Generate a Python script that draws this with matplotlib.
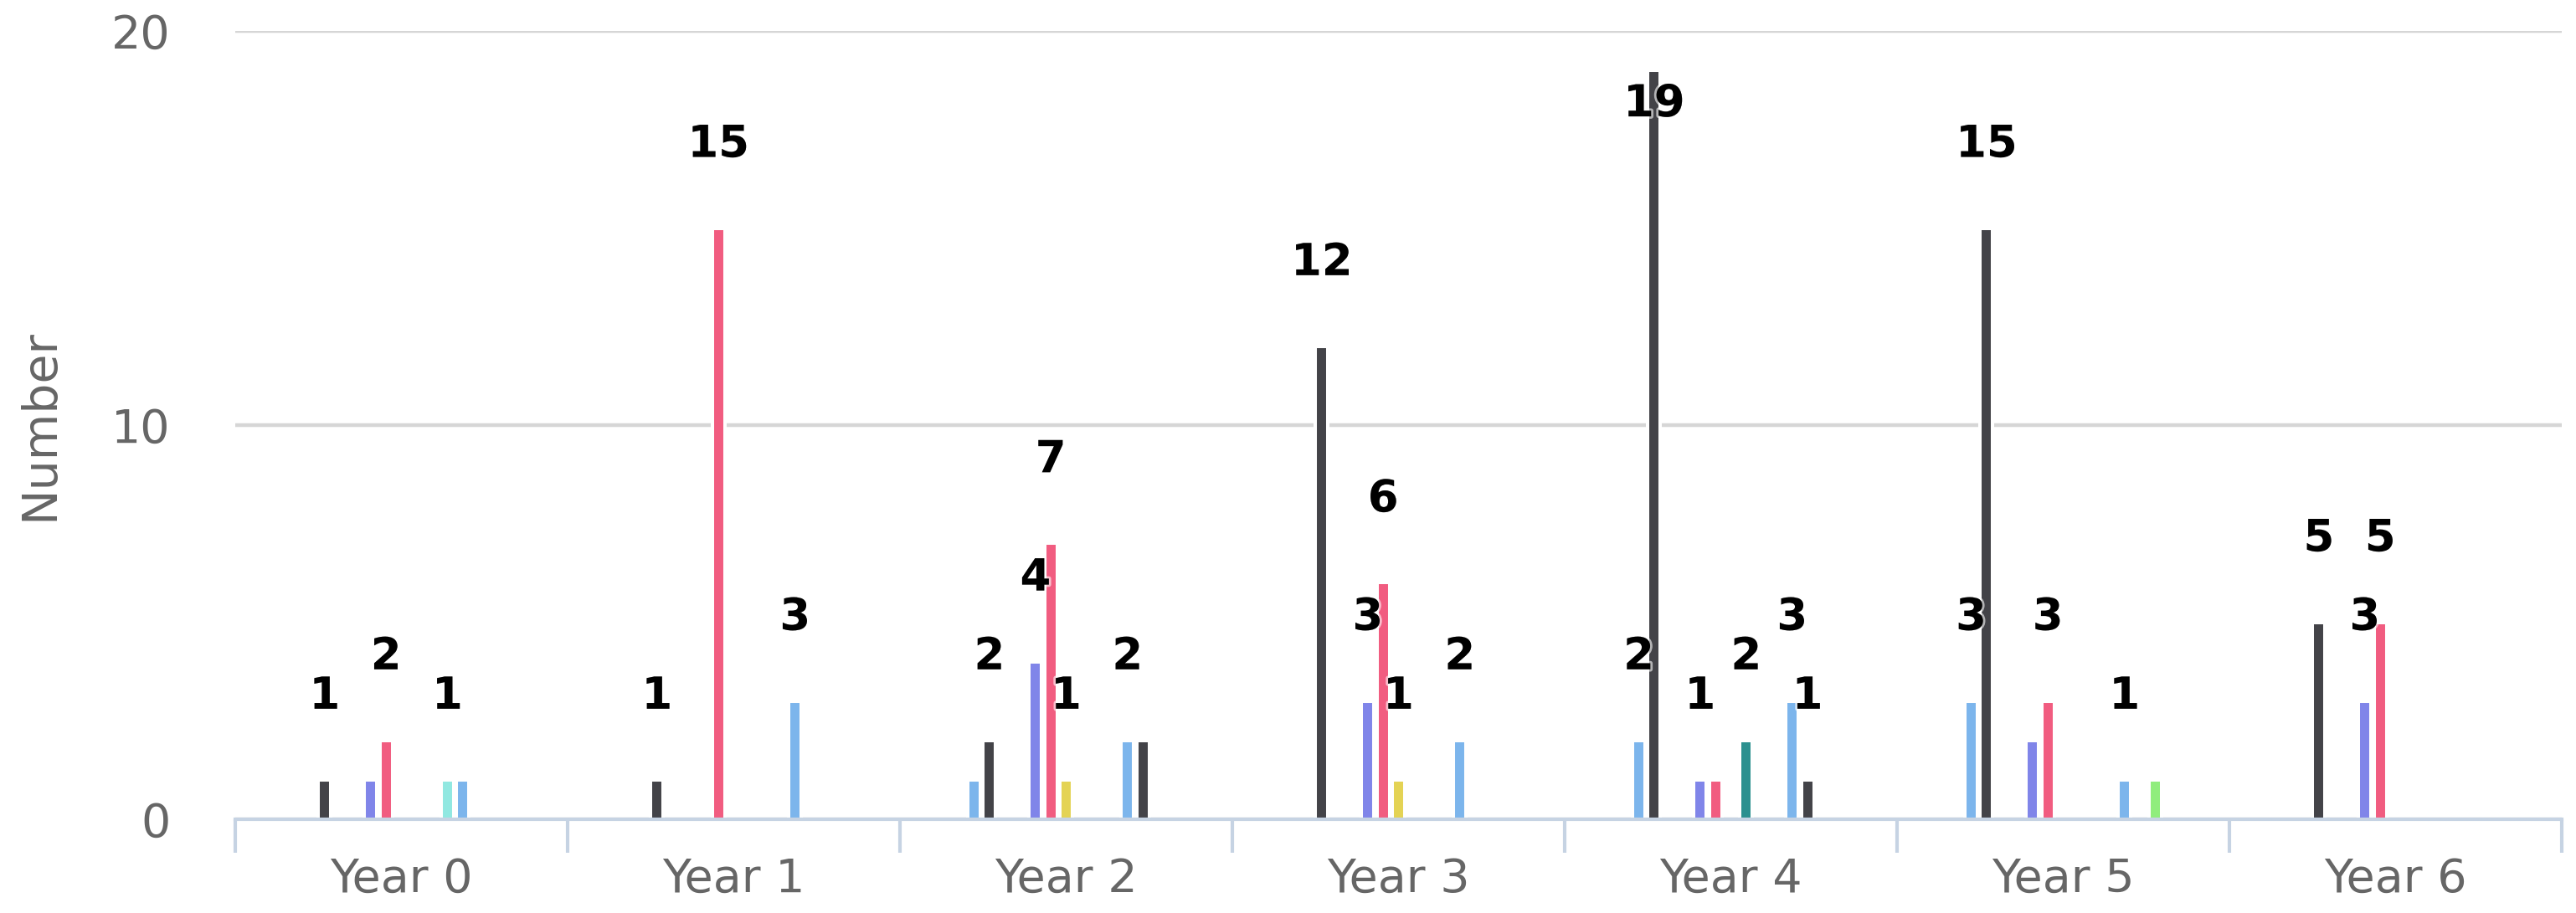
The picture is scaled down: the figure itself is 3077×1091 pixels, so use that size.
import numpy as np
import matplotlib.pyplot as plt
import matplotlib.patheffects as pe

# categories on the x axis
categories = ['Year 0', 'Year 1', 'Year 2', 'Year 3', 'Year 4', 'Year 5', 'Year 6']

# default Highcharts colour cycle
palette = ['#7cb5ec', '#434348', '#90ed7d', '#f7a35c', '#8085e9',
           '#f15c80', '#e4d354', '#2b908f', '#f45b5b', '#91e8e1']

# one list per series, None = no point in that year
s0 = [None, None, 1, None, 2, 3, None]
s1 = [1, 1, 2, 12, 19, 15, 5]
s2 = [None] * 7
s3 = [None] * 7
s4 = [1, None, 4, 3, 1, 2, 3]
s5 = [2, 15, 7, 6, 1, 3, 5]
s6 = [None, None, 1, 1, None, None, None]
s7 = [None, None, None, None, 2, None, None]
s8 = [None] * 7
s9 = [1, None, None, None, None, None, None]
s10 = [1, 3, 2, 2, 3, 1, None]
s11 = [None, None, 2, None, 1, None, None]
s12 = [None, None, None, None, None, 1, None]
series = [s0, s1, s2, s3, s4, s5, s6, s7, s8, s9, s10, s11, s12]

y_ticks = [0, 10, 20]

W, H = 3077, 1091
fig = plt.figure(figsize=(W / 100, H / 100), dpi=100)
ax = fig.add_axes([281 / W, 1 - 979 / H, (3060 - 281) / W, (979 - 37) / H])
ax.set_xlim(-0.5, len(categories) - 0.5)
ax.set_ylim(0, 20)

n = len(series)
slot = 0.6 / n
bar_w = 0.038

label_font = 38
label_items = []
for i, vals in enumerate(series):
    xs, hs = [], []
    for c, v in enumerate(vals):
        if v is None:
            continue
        x = c + (i - (n - 1) / 2) * slot
        xs.append(x)
        hs.append(v)
        label_items.append((v, i, x))
    if xs:
        ax.bar(xs, hs, width=bar_w, color=palette[i % len(palette)],
               edgecolor='white', linewidth=2.9, zorder=3)

# data labels: placed well above the bar, moved inside when past the top,
# overlapping labels hidden (higher value wins, then earlier series)
px_per_unit = ax.get_window_extent().height / 20
above_px = 100
fs_px = label_font * 100 / 72
kept = []
for v, i, x in sorted(label_items, key=lambda t: (-t[0], t[1])):
    off_px = above_px
    if v + (above_px + fs_px * 0.5) / px_per_unit > 20:
        off_px = -40
    cx, cy = ax.transData.transform((x, v))
    cy += off_px
    txt = str(v)
    w = len(txt) * 0.62 * fs_px + 8
    h = 1.1 * fs_px
    box = (cx - w / 2, cy - h / 2, cx + w / 2, cy + h / 2)
    clash = any(not (box[2] <= b[0] or box[0] >= b[2] or box[3] <= b[1] or box[1] >= b[3])
                for b in kept)
    if clash:
        continue
    kept.append(box)
    ax.annotate(txt, (x, v), xytext=(0, off_px * 72 / 100), textcoords='offset points',
                ha='center', va='center', fontsize=label_font, fontweight='bold',
                color='black', zorder=6, annotation_clip=False,
                path_effects=[pe.withStroke(linewidth=4, foreground=(1, 1, 1, 0.6))])

# axes styling
for side in ['top', 'left', 'right']:
    ax.spines[side].set_visible(False)
ax.spines['bottom'].set_color('#c6d3e3')
ax.spines['bottom'].set_linewidth(3)
ax.spines['bottom'].set_zorder(4)

ax.set_yticks(y_ticks)
ax.yaxis.grid(True, color='#d6d6d6', linewidth=3.2, zorder=0)
ax.set_axisbelow(True)
ax.tick_params(axis='y', length=0, pad=56, labelsize=40, labelcolor='#666666')

ax.set_xticks(range(len(categories)))
ax.set_xticklabels(categories)
ax.tick_params(axis='x', which='major', length=0, pad=32, labelsize=40, labelcolor='#666666')
ax.set_xticks(np.arange(-0.5, len(categories), 1), minor=True)
ax.tick_params(axis='x', which='minor', length=29, width=3, color='#c6d3e3')

ax.set_ylabel('Number', fontsize=41, color='#666666')
ax.yaxis.set_label_coords(-0.074, 0.5)

fig.savefig('out.png', dpi=100)
